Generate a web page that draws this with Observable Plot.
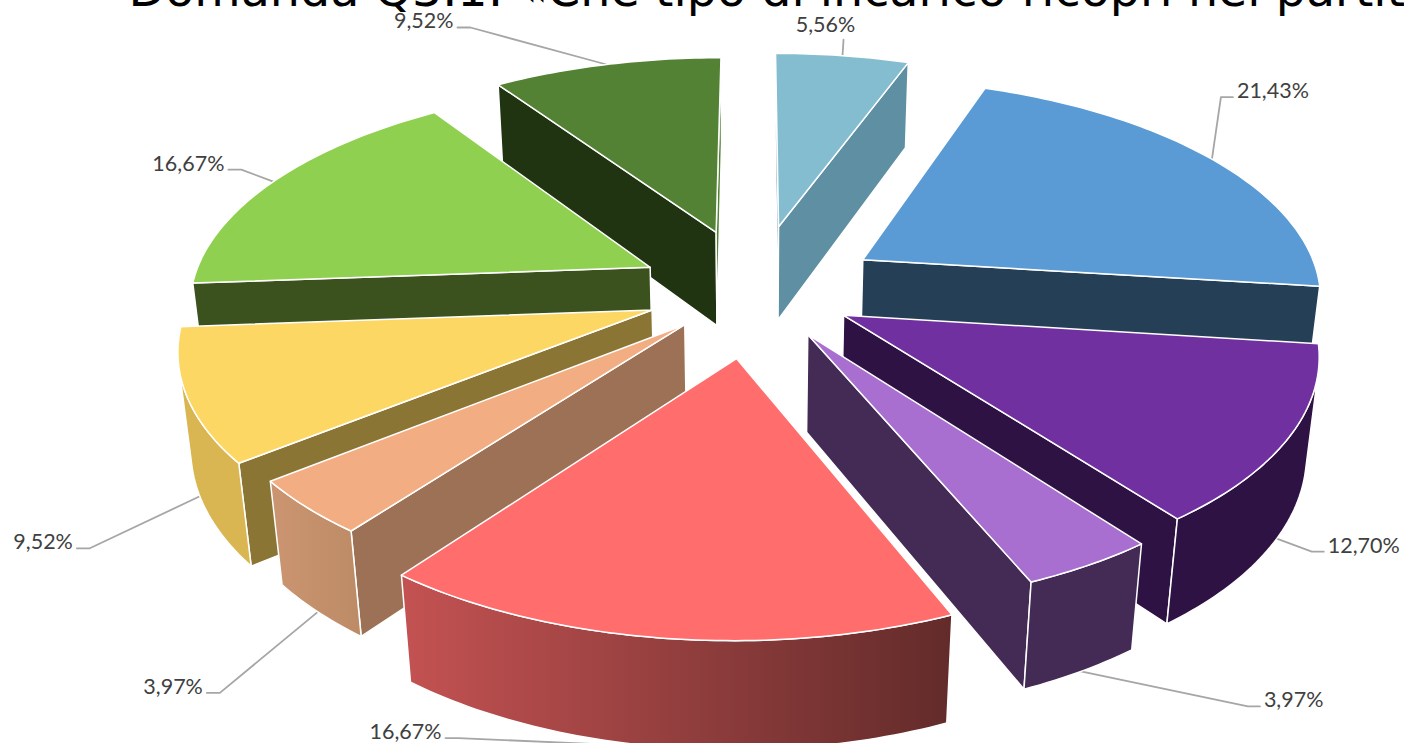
<!DOCTYPE html>
<html>
<head>
<meta charset="utf-8">
<style>html,body{margin:0;padding:0;background:#fff;overflow:hidden}svg{display:block}</style>
<script src="https://cdn.jsdelivr.net/npm/d3@7"></script>
<script src="https://cdn.jsdelivr.net/npm/@observablehq/plot@0.6"></script>
</head>
<body>
<div id="chart"></div>
<script>
// ---- data ----
const titleText = "Domanda Q3.1: «Che tipo di incarico ricopri nel partito?»";
const values = [5.56, 21.43, 12.70, 3.97, 16.67, 3.97, 9.52, 16.67, 9.52];

// ---- styles ----
const topColors  = ["#84BCD0", "#5B9BD5", "#7030A0", "#A86FD1", "#FF6D6D", "#F2AE82", "#FCD764", "#90D050", "#548235"];
const wallColors = ["#5F8FA3", "#243F56", "#2D1243", "#442B55", "#8A3A3A", "#9C7155", "#8A7535", "#3B521F", "#213412"];
const rimColors  = ["#5F8FA3", "#243F56", "#2D1243", "#442B55", "url(#rimRed)", "url(#rimPeach)", "#D9B651", "#3B521F", "#213412"];

// ---- layout of the exploded slices and their leader lines ----
const explode = [0.315, 0.282, 0.22, 0.225, 0.30, 0.212, 0.236, 0.256, 0.295];
const labelSide = ["top", "right", "right", "right", "left", "left", "left", "left", "left"];
const elbowDx = [1, 9, 35, 167, -206, -98, -110, -32, -136];
const elbowDy = [-16, -62, 13, 35, -9, 81, 52, -12, -37];

const W = 1404, H = 743;
const R = 460, CX = 754, CY = 290.5;         // pie radius and centre on the page
const TILT = 217 / R, DEPTH = 98 / R;        // ground-plane foreshortening, slice thickness
const PERSP = 0.15, PERSP_Z = 0.022;         // perspective of the camera

function project(X, Y, z) {
  const w = 1 - PERSP * Y + PERSP_Z * z;
  return {x: X / w, y: (TILT * Y + DEPTH * z) / w};
}
function shoelace(p) {
  let s = 0;
  for (let i = 0; i < p.length; i++) {
    const a = p[i], b = p[(i + 1) % p.length];
    s += a.x * b.y - b.x * a.y;
  }
  return s;
}
const closeRing = p => [...p, p[0]];

const total = d3.sum(values);
let cum = 0;
const slices = values.map((v, i) => {
  const a0 = cum / total * 2 * Math.PI; cum += v;
  const a1 = cum / total * 2 * Math.PI;
  const mid = (a0 + a1) / 2, e = explode[i];
  const ox = Math.sin(mid) * e, oy = -Math.cos(mid) * e;
  const at = (a, z) => project(ox + Math.sin(a), oy - Math.cos(a), z);
  return {i, v, a0, a1, mid, e, ox, oy, at};
});

const polyMark = (pts, fill) => Plot.line(closeRing(pts), {
  x: "x", y: "y", fill, stroke: "#fff", strokeWidth: 1.5, curve: "linear", strokeLinejoin: "round"
});

function sliceMarks(s) {
  const marks = [];
  const n = Math.max(4, Math.ceil((s.a1 - s.a0) / (Math.PI / 180)));
  const angles = d3.range(n + 1).map(k => s.a0 + (s.a1 - s.a0) * k / n);
  const apex = z => project(s.ox, s.oy, z);

  // radial walls: keep those that face the viewer
  const startWall = [apex(0), s.at(s.a0, 0), s.at(s.a0, 1), apex(1)];
  const endWall = [s.at(s.a1, 0), apex(0), apex(1), s.at(s.a1, 1)];
  if (shoelace(startWall) < 0) marks.push(polyMark(startWall, wallColors[s.i]));
  if (shoelace(endWall) < 0) marks.push(polyMark(endWall, s.i === values.length - 1 ? topColors[s.i] : wallColors[s.i]));

  // outer rim: join the runs of segments that face the viewer
  let run = [];
  const flush = () => {
    if (run.length > 1) {
      marks.push(polyMark([...run.map(a => s.at(a, 0)), ...run.slice().reverse().map(a => s.at(a, 1))], rimColors[s.i]));
    }
    run = [];
  };
  for (let k = 0; k < n; k++) {
    const q = [s.at(angles[k + 1], 0), s.at(angles[k], 0), s.at(angles[k], 1), s.at(angles[k + 1], 1)];
    if (shoelace(q) > 0) {
      if (!run.length) run.push(angles[k]);
      run.push(angles[k + 1]);
    } else flush();
  }
  flush();

  // top face
  marks.push(polyMark([apex(0), ...angles.map(a => s.at(a, 0))], topColors[s.i]));
  return marks;
}

// leader lines and labels
const fmt = v => d3.format(".2f")(v).replace(".", ",");
const leaders = slices.map(s => {
  const front = Math.cos(s.mid) < 0;
  const anchor = s.at(s.mid, front ? 1 : 0);
  const elbow = {x: anchor.x + elbowDx[s.i] / R, y: anchor.y + elbowDy[s.i] / R};
  const side = labelSide[s.i];
  const pts = [anchor, elbow];
  if (side === "right") pts.push({x: elbow.x + 12 / R, y: elbow.y});
  if (side === "left") pts.push({x: elbow.x - 13 / R, y: elbow.y});
  return {pts, elbow, side, label: fmt(s.v) + "%", stub: pts[pts.length - 1]};
});
const leaderMarks = leaders.map(l => Plot.line(l.pts, {x: "x", y: "y", stroke: "#A6A6A6", strokeWidth: 1.8, curve: "linear"}));
const labelStyle = {fontFamily: "Lato", fontSize: 21.5, fill: "#404040"};
const labelMark = (side, opts) => Plot.text(leaders.filter(l => l.side === side), {
  x: d => d.stub.x, y: d => d.stub.y, text: "label", ...labelStyle, ...opts
});

const drawOrder = slices.slice().sort((a, b) => (-Math.cos(a.mid)) - (-Math.cos(b.mid)));
const defs = () => {
  const d = d3.create("svg:defs");
  const grad = (id, c0, c1) => {
    const g = d.append("linearGradient").attr("id", id).attr("x1", 0).attr("x2", 1).attr("y1", 0).attr("y2", 0);
    g.append("stop").attr("offset", 0).attr("stop-color", c0);
    g.append("stop").attr("offset", 1).attr("stop-color", c1);
  };
  grad("rimRed", "#C45252", "#622B2A");
  grad("rimPeach", "#CC9571", "#BC8B66");
  return d.node();
};

const chart = Plot.plot({
  width: W, height: H, margin: 0,
  style: {background: "#fff", overflow: "hidden"},
  x: {domain: [-CX / R, (W - CX) / R], range: [0, W], axis: null},
  y: {domain: [-CY / R, (H - CY) / R], range: [0, H], axis: null},
  marks: [
    defs,
    ...leaderMarks,
    ...drawOrder.flatMap(sliceMarks),
    labelMark("right", {textAnchor: "start", dx: 4, dy: -6}),
    labelMark("left", {textAnchor: "end", dx: -4, dy: -6}),
    labelMark("top", {textAnchor: "middle", dx: -18, dy: -15}),
    Plot.text([titleText], {
      text: d => d, frameAnchor: "top-left", textAnchor: "start", lineAnchor: "bottom",
      dx: 128, dy: 5, fontFamily: "DejaVu Sans", fontSize: 47.6, fill: "#000"
    })
  ]
});
document.getElementById("chart").appendChild(chart);
</script>
</body>
</html>
